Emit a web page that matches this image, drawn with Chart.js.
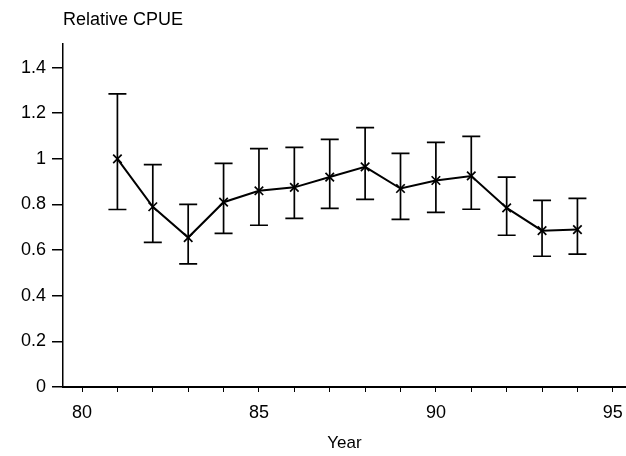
<!DOCTYPE html>
<html>
<head>
<meta charset="utf-8">
<script src="https://cdn.jsdelivr.net/npm/chart.js@4.4.1/dist/chart.umd.min.js"></script>
<style>
  html, body { margin: 0; padding: 0; background: #fff; overflow: hidden; }
  body { width: 626px; height: 456px; }
  /* a little wider than the page so the x axis runs to the right edge */
  #wrap { width: 633px; height: 456px; }
</style>
</head>
<body>
<div id="wrap"><canvas id="cpueChart"></canvas></div>
<script>
const years = [81, 82, 83, 84, 85, 86, 87, 88, 89, 90, 91, 92, 93, 94];
const cpue  = [1.0, 0.79, 0.655, 0.81, 0.86, 0.875, 0.92, 0.965, 0.87, 0.905, 0.925, 0.785, 0.685, 0.69];
const upper = [1.285, 0.975, 0.80, 0.98, 1.045, 1.05, 1.085, 1.137, 1.024, 1.072, 1.098, 0.92, 0.818, 0.827];
const lower = [0.778, 0.634, 0.54, 0.673, 0.709, 0.739, 0.783, 0.822, 0.735, 0.765, 0.779, 0.665, 0.573, 0.582];

const fontFamily = '"Liberation Sans", Arial, sans-serif';

// draws the vertical error bars with caps
const errorBars = {
    id: 'errorBars',
    afterDatasetsDraw(chart) {
        const ctx = chart.ctx;
        const xs = chart.scales.x;
        const ys = chart.scales.y;
        ctx.save();
        ctx.strokeStyle = '#000';
        ctx.lineWidth = 1.7;
        years.forEach((yr, i) => {
            const x = xs.getPixelForValue(yr);
            const top = ys.getPixelForValue(upper[i]);
            const bot = ys.getPixelForValue(lower[i]);
            ctx.beginPath();
            ctx.moveTo(x, top);
            ctx.lineTo(x, bot);
            ctx.moveTo(x - 9, top);
            ctx.lineTo(x + 9, top);
            ctx.moveTo(x - 9, bot);
            ctx.lineTo(x + 9, bot);
            ctx.stroke();
        });
        ctx.restore();
    }
};

new Chart(document.getElementById('cpueChart'), {
    type: 'line',
    data: {
        datasets: [{
            data: years.map((yr, i) => ({ x: yr, y: cpue[i] })),
            borderColor: '#000',
            borderWidth: 2,
            pointStyle: 'crossRot',
            pointRadius: 6,
            pointBorderWidth: 1.7,
            pointBorderColor: '#000',
            tension: 0,
            clip: false
        }]
    },
    options: {
        responsive: true,
        maintainAspectRatio: false,
        animation: false,
        layout: { autoPadding: false, padding: { left: 15, right: 0, top: 0, bottom: 2 } },
        plugins: {
            legend: { display: false },
            tooltip: { enabled: false },
            title: {
                display: true,
                text: 'Relative CPUE',
                align: 'start',
                fullSize: false,
                color: '#000',
                font: { family: fontFamily, size: 18, weight: 'normal' },
                padding: { top: 9, bottom: 13 }
            }
        },
        scales: {
            x: {
                type: 'linear',
                min: 79.463,
                max: 95.367,
                grid: {
                    drawOnChartArea: false,
                    drawTicks: true,
                    tickLength: 5,
                    color: '#000',
                    lineWidth: 1
                },
                border: { color: '#000', width: 2 },
                ticks: {
                    stepSize: 1,
                    includeBounds: false,
                    autoSkip: false,
                    maxRotation: 0,
                    padding: 10,
                    color: '#000',
                    font: { family: fontFamily, size: 18 },
                    callback: v => (v % 5 === 0 ? v : '')
                },
                title: {
                    display: true,
                    text: 'Year',
                    color: '#000',
                    font: { family: fontFamily, size: 17 },
                    padding: { top: 0, bottom: 0 }
                }
            },
            y: {
                min: 0,
                max: 1.505,
                grid: {
                    drawOnChartArea: false,
                    drawTicks: true,
                    tickLength: 11,
                    color: '#000',
                    lineWidth: 1.5
                },
                border: { color: '#000', width: 1.5 },
                ticks: {
                    stepSize: 0.2,
                    includeBounds: false,
                    padding: 6,
                    color: '#000',
                    font: { family: fontFamily, size: 18 },
                    callback: v => String(Number(v.toFixed(1)))
                }
            }
        }
    },
    plugins: [errorBars]
});
</script>
</body>
</html>
